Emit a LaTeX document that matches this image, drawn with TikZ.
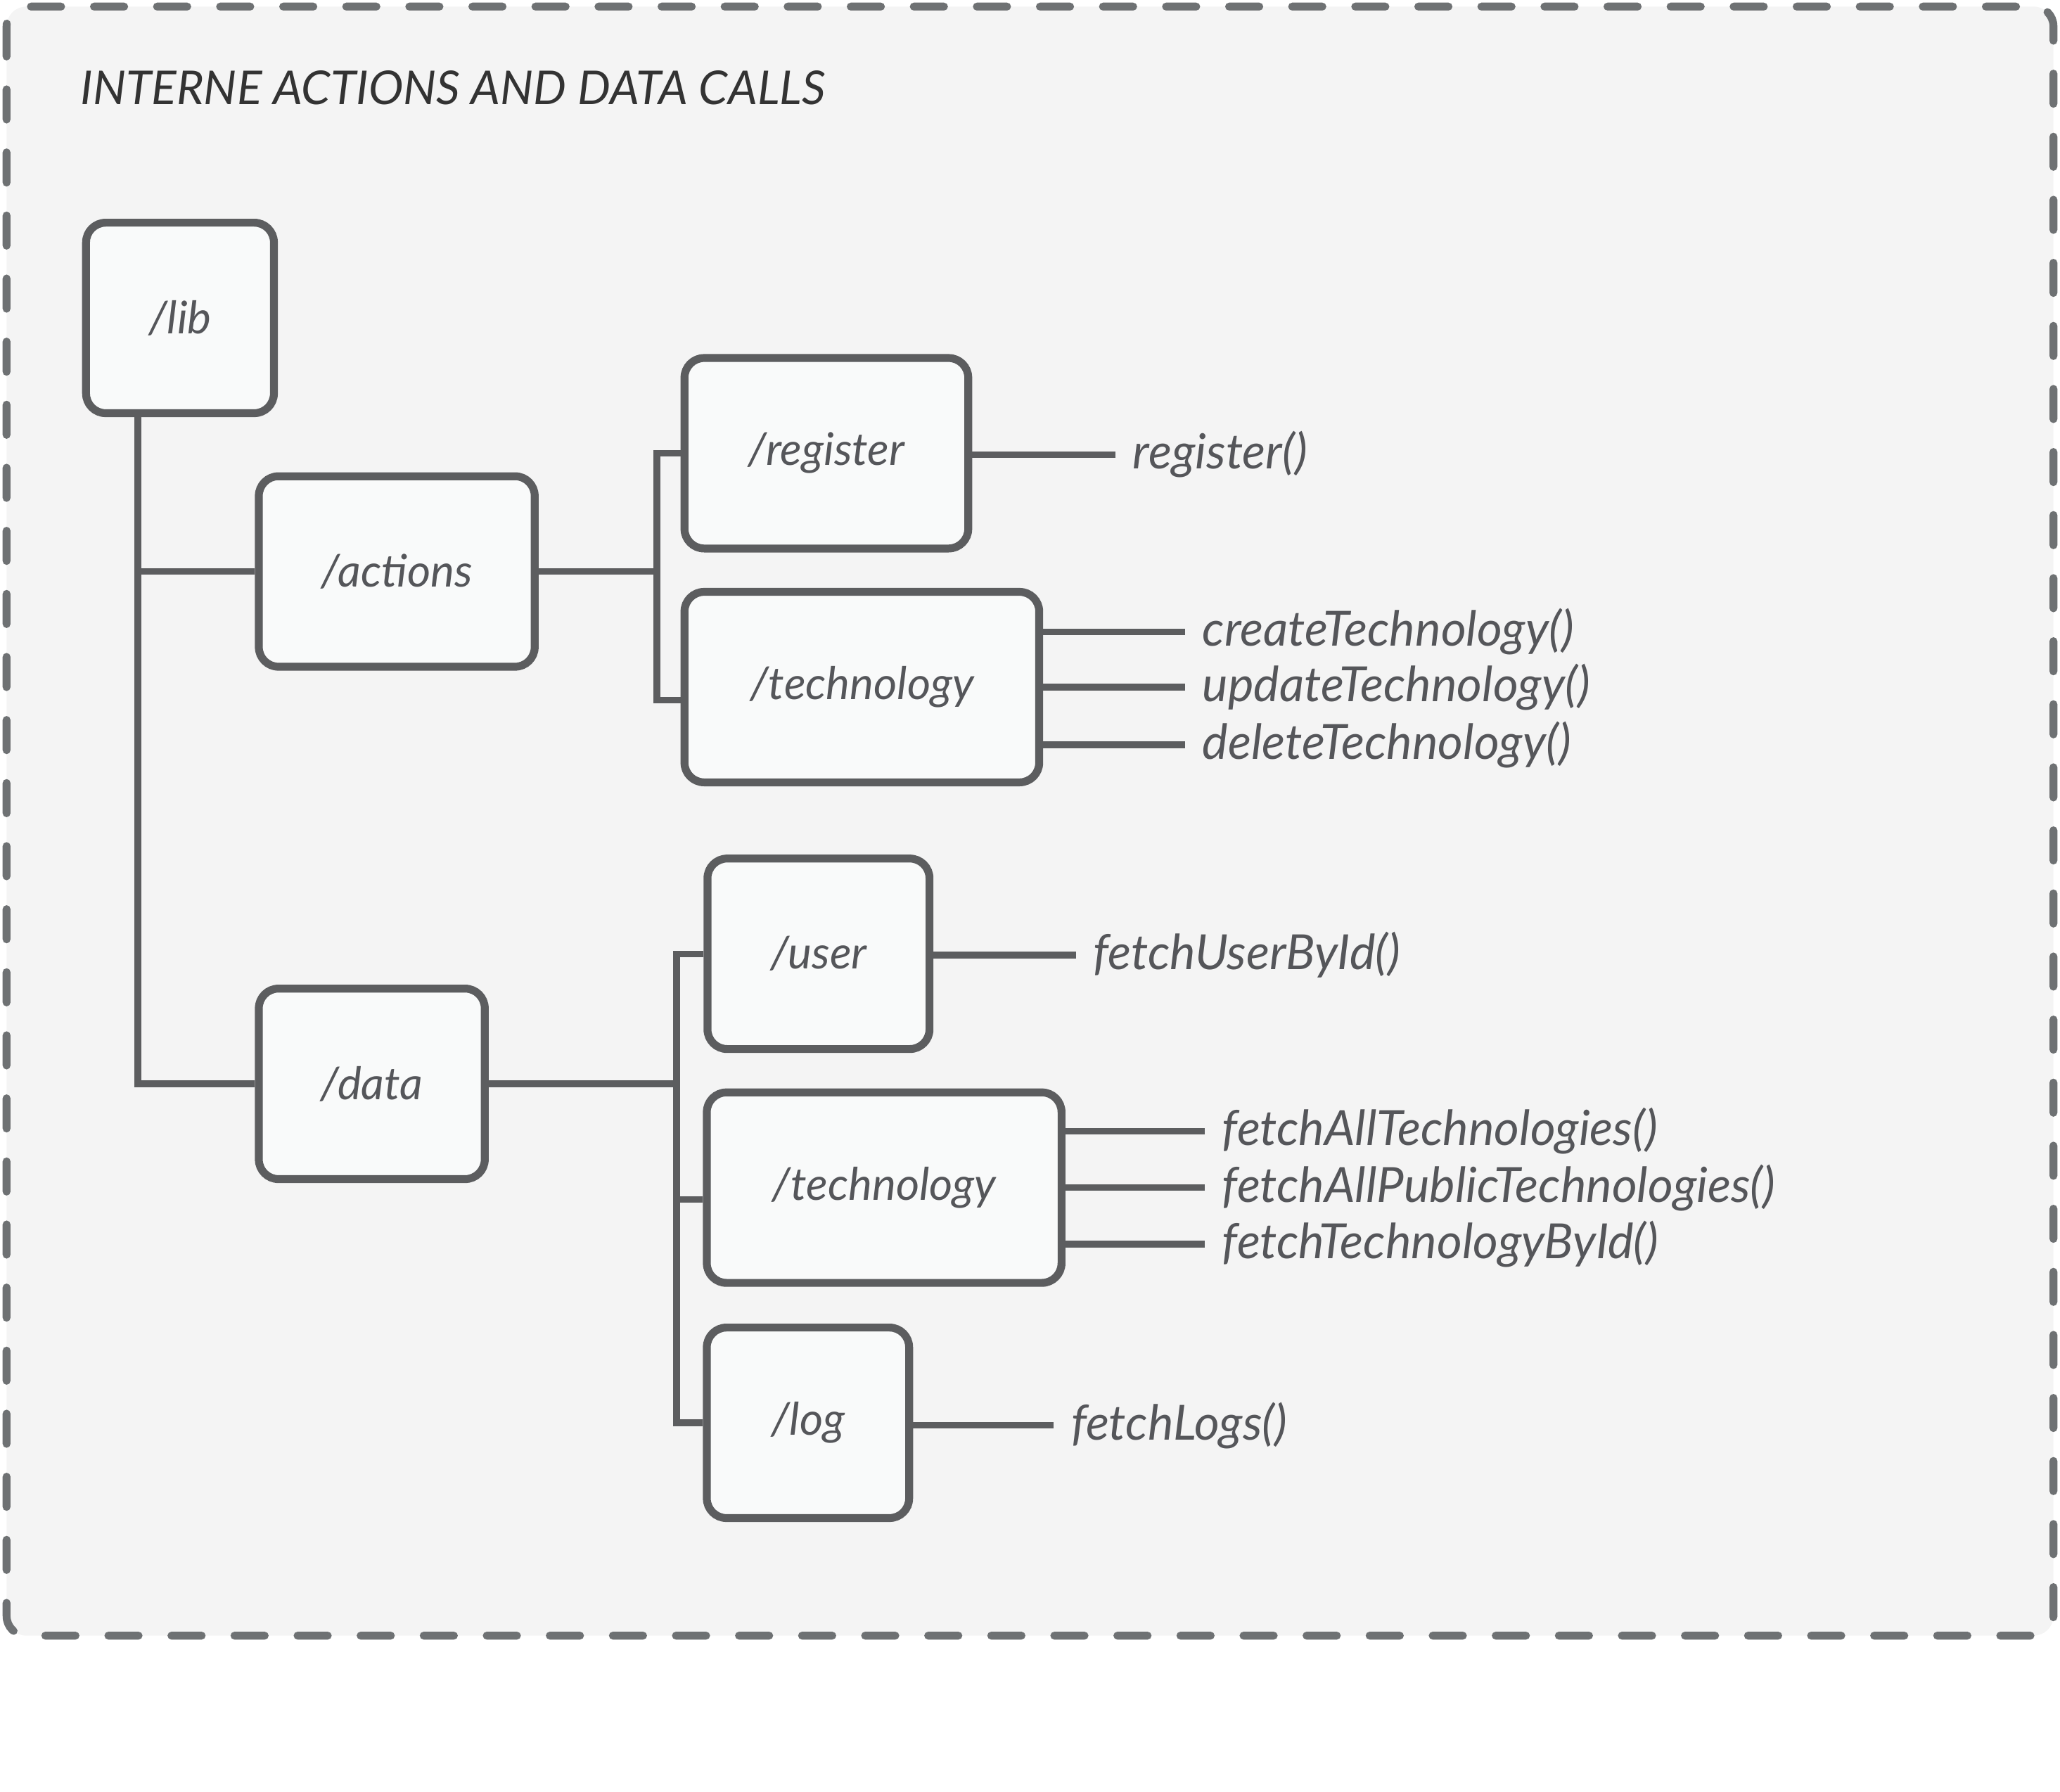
\documentclass[tikz,border=0pt]{standalone}
\usepackage{fontspec}
\setmainfont{Lato}
\usetikzlibrary{positioning}

\definecolor{framegray}{HTML}{6E7173}
\definecolor{boxline}{HTML}{5C5D5F}
\definecolor{boxfill}{HTML}{F9FAFA}
\definecolor{bgfill}{HTML}{F4F4F4}
\definecolor{labeltext}{HTML}{55565A}
\definecolor{titletext}{HTML}{333333}

\begin{document}
\begin{tikzpicture}[
    x = 0.2mm,
    y = -0.2mm,
    folder/.style={rectangle, draw=boxline, fill=boxfill, line width=1.2mm, rounded corners=3mm, minimum height=29mm, text=labeltext, font=\itshape\fontsize{19.5}{22}\selectfont},
    func/.style={anchor=west, inner sep=0pt, text=labeltext, font=\itshape\fontsize{21}{24}\selectfont},
    link/.style={draw=boxline, line width=1mm},
    stub/.style={draw=boxline, line width=1mm, shorten >=2.6mm}
]

\useasboundingbox (0,0) rectangle (1568,1364);

% Frame and title
\draw[framegray, fill=bgfill, line width=1.2mm, line cap=round, dash pattern=on 4.6mm off 5mm, rounded corners=3mm] (5,5) rectangle (1563,1245);
\node[anchor=west, inner sep=0pt, text=titletext, font=\itshape\fontsize{20.2}{24}\selectfont] (title) at (61,67) {INTERNE ACTIONS AND DATA CALLS};

% Folders
\node[folder, minimum width=28.6mm] (lib) at (137,242) {/lib};
\node[folder, minimum width=42mm] (actions) at (302,435) {/actions};
\node[folder, minimum width=34.4mm] (data) at (283,825) {/data};

\node[folder, minimum width=43.2mm] (register) at (629,345) {/register};
\node[folder, minimum width=54mm] (techA) at (656,523) {/technology};

\node[folder, minimum width=33.8mm] (user) at (623,726) {/user};
\node[folder, minimum width=54mm] (techD) at (673,904) {/technology};
\node[folder, minimum width=30.8mm] (log) at (615,1083) {/log};

% Functions
\node[func] (fnregister) at (862,346) {register()};
\node[func] (fncreate) at (915,481) {createTechnology()};
\node[func] (fnupdate) at (915,523) {updateTechnology()};
\node[func] (fndelete) at (915,567) {deleteTechnology()};
\node[func] (fnuser) at (832,727) {fetchUserById()};
\node[func] (fnall) at (930,861) {fetchAllTechnologies()};
\node[func] (fnpublic) at (930,904) {fetchAllPublicTechnologies()};
\node[func] (fnbyid) at (930,947) {fetchTechnologyById()};
\node[func] (fnlogs) at (815,1085) {fetchLogs()};

% Tree lines
\coordinate (trunk) at (105,825);
\coordinate (forkA) at (500,435);
\coordinate (forkAend) at (500,533);
\coordinate (forkD) at (515,825);
\coordinate (forkDmid) at (515,913);

\draw[link] (trunk |- lib.south) |- (data.west);
\draw[link] (trunk |- actions.west) -- (actions.west);

\draw[link] (actions.east) -- (forkA);
\draw[link] (register.west) -| (forkAend) -- (forkAend -| techA.west);

\draw[link] (data.east) -- (forkD);
\draw[link] (user.west) -| (forkD |- log.west) -- (log.west);
\draw[link] (forkDmid) -- (forkDmid -| techD.west);

% Function stubs
\draw[stub] (register.east |- fnregister.west) -- (fnregister.west);
\draw[stub] (techA.east |- fncreate.west) -- (fncreate.west);
\draw[stub] (techA.east |- fnupdate.west) -- (fnupdate.west);
\draw[stub] (techA.east |- fndelete.west) -- (fndelete.west);
\draw[stub] (user.east |- fnuser.west) -- (fnuser.west);
\draw[stub] (techD.east |- fnall.west) -- (fnall.west);
\draw[stub] (techD.east |- fnpublic.west) -- (fnpublic.west);
\draw[stub] (techD.east |- fnbyid.west) -- (fnbyid.west);
\draw[stub] (log.east |- fnlogs.west) -- (fnlogs.west);

\end{tikzpicture}
\end{document}
